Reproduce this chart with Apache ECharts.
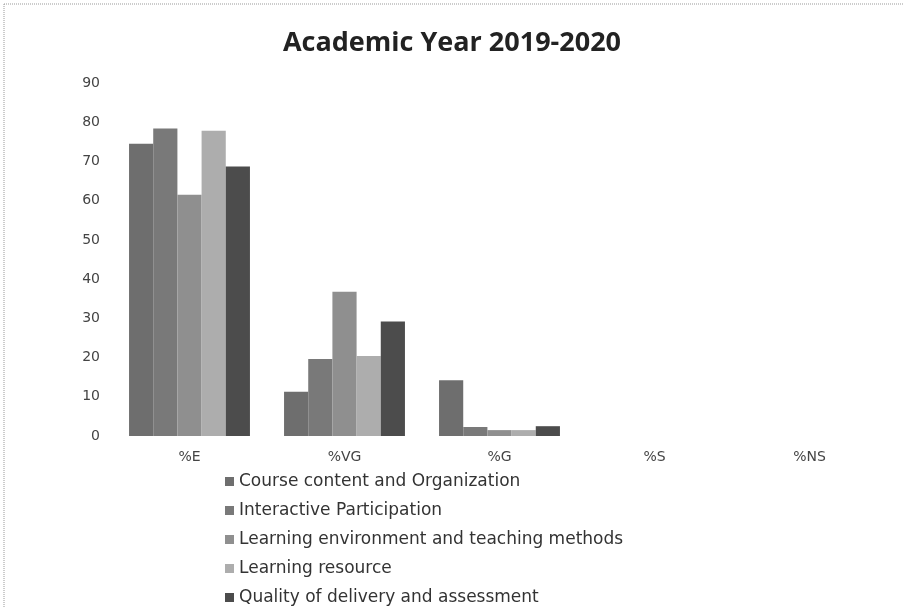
<!DOCTYPE html>
<html><head><meta charset="utf-8">
<script src="https://cdn.jsdelivr.net/npm/echarts@6/dist/echarts.min.js"></script>
<style>html,body{margin:0;padding:0;background:#fff}#c{width:904px;height:608px}</style>
</head><body><div id="c"></div>
<script>
var categories = ['%E', '%VG', '%G', '%S', '%NS'];
var seriesNames = ['Course content and Organization', 'Interactive Participation', 'Learning environment and teaching methods', 'Learning resource', 'Quality of delivery and assessment'];
var courseContent = [74.5, 11.3, 14.2, 0, 0];
var interactive = [78.4, 19.6, 2.3, 0, 0];
var learningEnv = [61.5, 36.8, 1.5, 0, 0];
var learningRes = [77.8, 20.4, 1.5, 0, 0];
var quality = [68.7, 29.2, 2.5, 0, 0];
var yTicks = [0, 10, 20, 30, 40, 50, 60, 70, 80, 90];
var colors = ['#6e6e6e', '#797979', '#8f8f8f', '#adadad', '#4c4c4c'];
var values = [courseContent, interactive, learningEnv, learningRes, quality];

var legends = seriesNames.map(function (n, i) {
  return {
    orient: 'vertical', left: 225, top: 473 + i * 29, padding: 0,
    itemWidth: 9, itemHeight: 9, icon: 'rect', itemGap: 4,
    textStyle: { fontFamily: 'DejaVu Sans', fontSize: 17, color: '#333' },
    data: [n]
  };
});

var chart = echarts.init(document.getElementById('c'));
chart.setOption({
  animation: false,
  backgroundColor: '#fff',
  color: colors,
  title: {
    text: 'Academic Year 2019-2020', left: 'center', top: 25,
    textStyle: { fontFamily: 'Open Sans', fontWeight: 'bold', fontSize: 27, color: '#222' }
  },
  legend: legends,
  grid: { left: 112, right: 17, top: 83, bottom: 172 },
  xAxis: {
    type: 'category', data: categories,
    axisLine: { show: false }, axisTick: { show: false },
    axisLabel: { fontFamily: 'DejaVu Sans', fontSize: 14, color: '#444', margin: 14 }
  },
  yAxis: {
    type: 'value', min: yTicks[0], max: yTicks[yTicks.length - 1], interval: 10,
    splitLine: { show: false }, axisLine: { show: false }, axisTick: { show: false },
    axisLabel: { fontFamily: 'DejaVu Sans', fontSize: 14, color: '#444', margin: 12 }
  },
  graphic: [
    { type: 'line', shape: { x1: 4, y1: 4, x2: 904, y2: 4 }, style: { stroke: '#999', lineWidth: 1, lineDash: [1, 1] } },
    { type: 'line', shape: { x1: 4, y1: 4, x2: 4, y2: 608 }, style: { stroke: '#999', lineWidth: 1, lineDash: [1, 1] } }
  ],
  series: seriesNames.map(function (n, i) {
    return { name: n, type: 'bar', data: values[i], barGap: '0%', barCategoryGap: '22%' };
  })
});
</script></body></html>
